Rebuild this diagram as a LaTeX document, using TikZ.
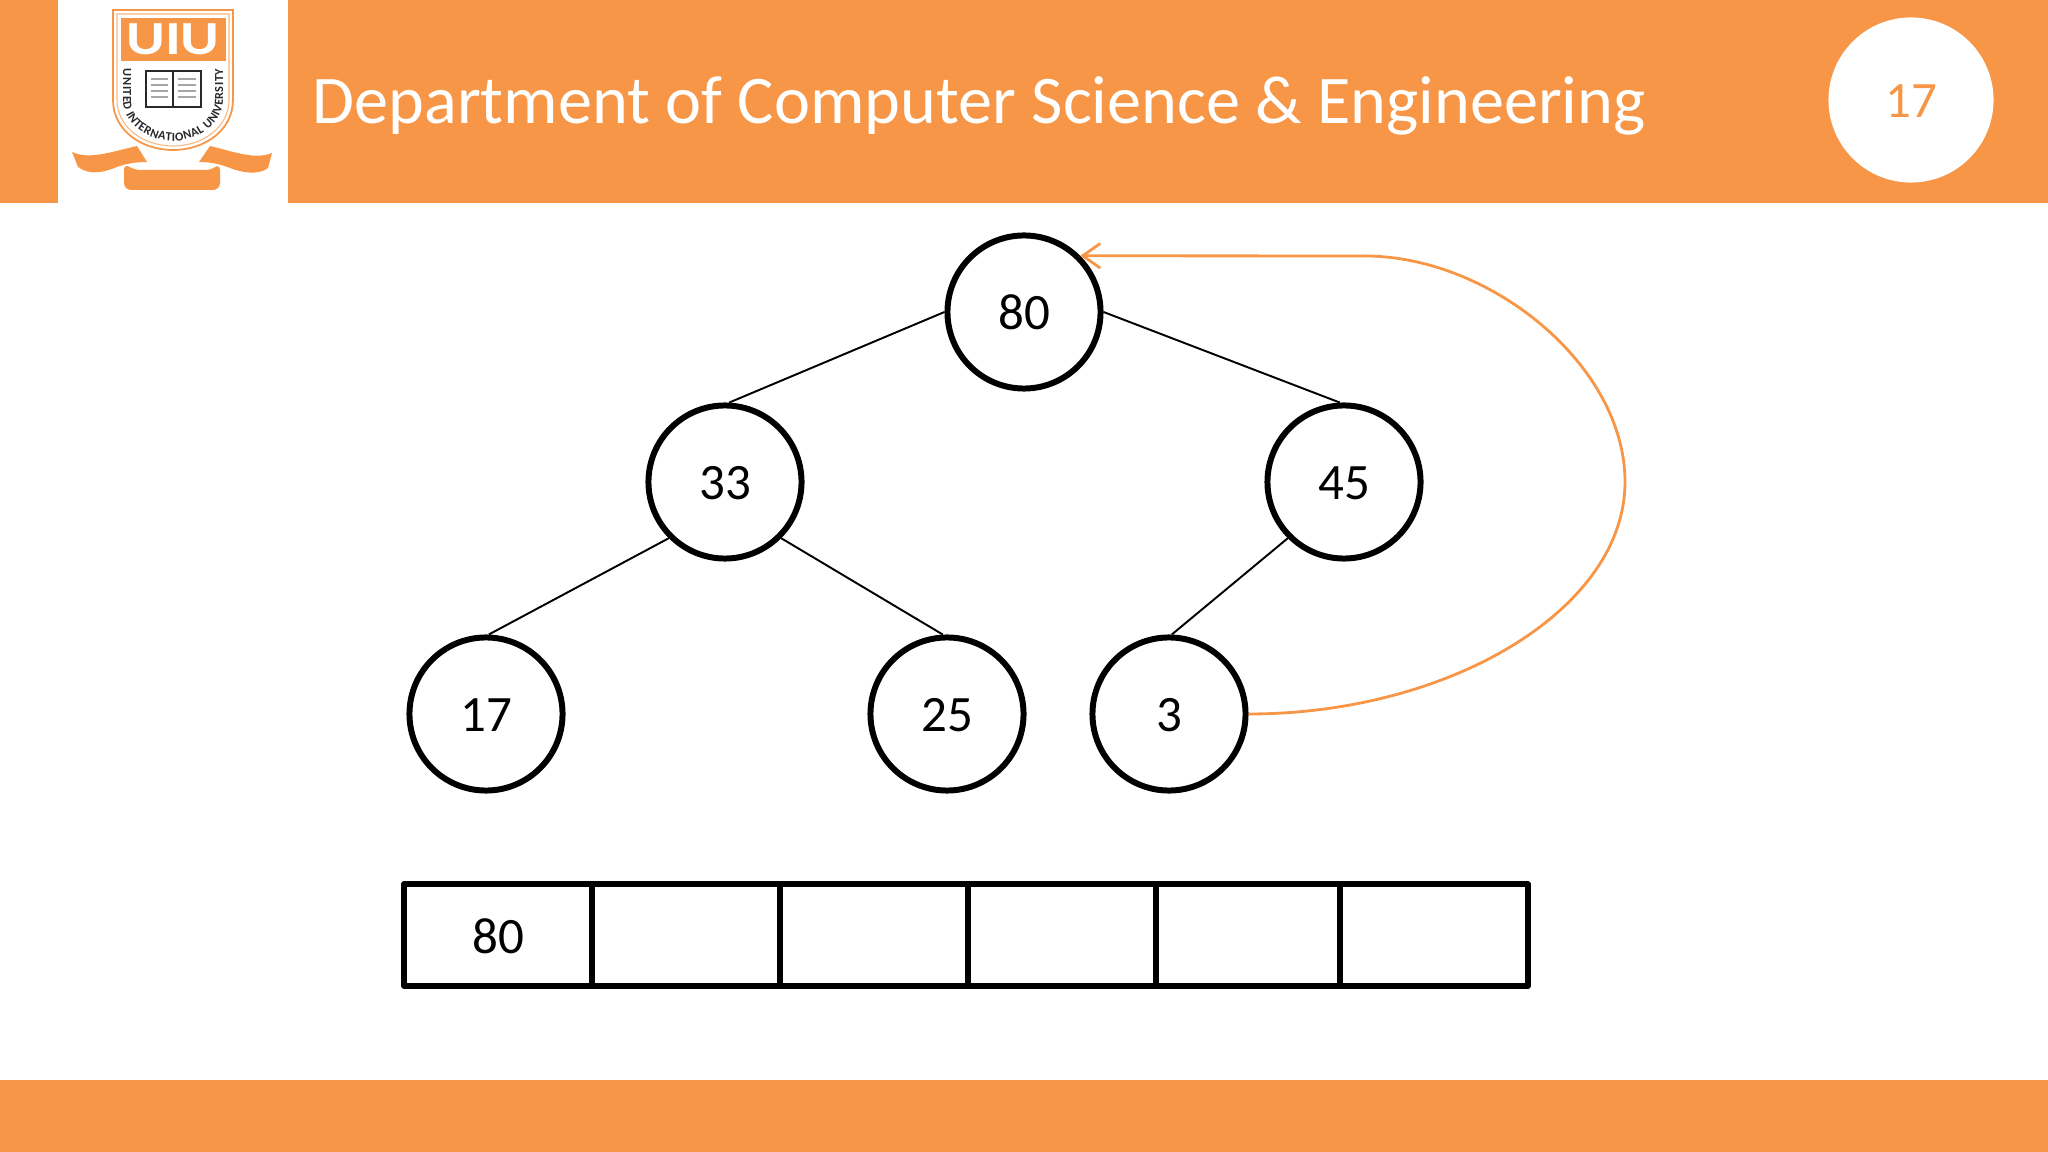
\documentclass[tikz,border=0pt]{standalone}
\usepackage{fontspec,graphicx}
\setmainfont{Carlito}
\definecolor{uiuorange}{RGB}{247,150,70}
\definecolor{uiudark}{RGB}{40,40,45}
\usetikzlibrary{arrows.meta,decorations.text}
\tikzset{
  band/.style={fill=uiuorange, draw=none},
  heapnode/.style={circle, draw=black, line width=1.7pt, fill=white, minimum size=1.53cm, inner sep=0pt, text height=10pt, text depth=0pt, font=\fontsize{14.5}{16}\selectfont},
  heapedge/.style={draw=black, line width=0.55pt},
  cellbox/.style={draw=black, line width=1.5pt, minimum height=1.02cm, inner sep=0pt, outer sep=0pt, line join=round, text height=10.8pt, text depth=0pt, font=\fontsize{14.5}{16}\selectfont},
  moveline/.style={draw=uiuorange, line width=0.8pt, -{Straight Barb[length=5pt,width=7pt]}},
  crest/.style={fill=uiuorange, draw=none}
}
\begin{document}
\begin{tikzpicture}[x=0.01cm,y=-0.01cm]
  \useasboundingbox (0,0) rectangle (2048,1152);

  % header and footer
  \fill[band] (0,0) rectangle (58,203);
  \fill[band] (288,0) rectangle (2048,203);
  \fill[band] (0,1080) rectangle (2048,1152);
  \node[anchor=west, inner sep=0pt, text=white, font=\fontsize{19.4}{22}\selectfont] (title) at (312,106) {Department of Computer Science \& Engineering};
  \node[circle, fill=white, minimum size=1.65cm, inner sep=0pt, text=uiuorange, text height=10pt, text depth=0pt, font=\fontsize{14.5}{16}\selectfont] (page) at (1911,100) {17};

  % logo
  \draw[uiuorange, line width=0.5pt, fill=white] (113,10) -- (233,10) -- (233,100) .. controls (233,130) and (205,150) .. (173,150) .. controls (141,150) and (113,130) .. (113,100) -- cycle;
  \draw[uiuorange!70, line width=0.3pt] (117,14) -- (229,14) -- (229,100) .. controls (229,127) and (203,146) .. (173,146) .. controls (143,146) and (117,127) .. (117,100) -- cycle;
  \fill[crest] (121,18) rectangle (226,61);
  \node[text=white, inner sep=0pt, font=\fontsize{13.5}{15}\bfseries\selectfont] (uiu) at (173,39) {\scalebox{1.25}[1]{UIU}};
  \draw[uiudark, line width=0.7pt, fill=white] (146,71) rectangle (173,107) (173,71) rectangle (201,107);
  \draw[gray!70, line width=0.5pt] (151,79) -- (168,79) (151,85) -- (168,85) (151,91) -- (168,91) (151,97) -- (168,97) (178,79) -- (196,79) (178,85) -- (196,85) (178,91) -- (196,91) (178,97) -- (196,97);
  \path[decorate, decoration={text along path, text align={fit to path}, text color=uiudark, text={|\fontsize{3.5}{4}\bfseries\selectfont|UNITED INTERNATIONAL UNIVERSITY}}] (123,69) -- (123,100) .. controls (123,124) and (148,141) .. (173,141) .. controls (198,141) and (223,124) .. (223,100) -- (223,69);
  \fill[crest] (72,152) .. controls (90,160) and (110,152) .. (137,146) -- (147,162) .. controls (135,162) and (125,164) .. (117,167) .. controls (105,172) and (90,176) .. (78,167) -- cycle;
  \fill[crest] (272,153) .. controls (255,160) and (235,152) .. (210,146) -- (199,162) .. controls (210,162) and (220,164) .. (230,168) .. controls (240,172) and (258,176) .. (268,168) -- cycle;
  \fill[crest, rounded corners=2pt] (124,163) -- (133,170) -- (213,170) -- (220,163) -- (220,190) -- (124,190) -- cycle;

  % tree nodes
  \node[heapnode] (n80) at (1024,312) {80};
  \node[heapnode] (n33) at (725,482) {33};
  \node[heapnode] (n45) at (1344,482) {45};
  \node[heapnode] (n17) at (486,714) {17};
  \node[heapnode] (n25) at (947,714) {25};
  \node[heapnode] (n3) at (1169,714) {3};

  \draw[heapedge] (n80.west) -- (n33.87);
  \draw[heapedge] (n80.east) -- (n45.93);
  \draw[heapedge] (n33.south west) -- (n17.88);
  \draw[heapedge] (n33.south east) -- (n25.93);
  \draw[heapedge] (n45.south west) -- (n3.88);

  % move of the last node to the root
  \coordinate (bendr) at (1625,482);
  \coordinate (bendt) at (1365,256);
  \draw[moveline] (n3.east) .. controls (1450,714) and (1625,609) .. (bendr) .. controls (1625,365) and (1490,256) .. (bendt) -- (n80.north east);

  % array
  \node[cellbox, minimum width=1.88cm] (c1) at (498,935) {80};
  \node[cellbox, minimum width=1.88cm] (c2) at (686,935) {};
  \node[cellbox, minimum width=1.88cm] (c3) at (874,935) {};
  \node[cellbox, minimum width=1.88cm] (c4) at (1062,935) {};
  \node[cellbox, minimum width=1.84cm] (c5) at (1248,935) {};
  \node[cellbox, minimum width=1.88cm] (c6) at (1434,935) {};
\end{tikzpicture}
\end{document}
